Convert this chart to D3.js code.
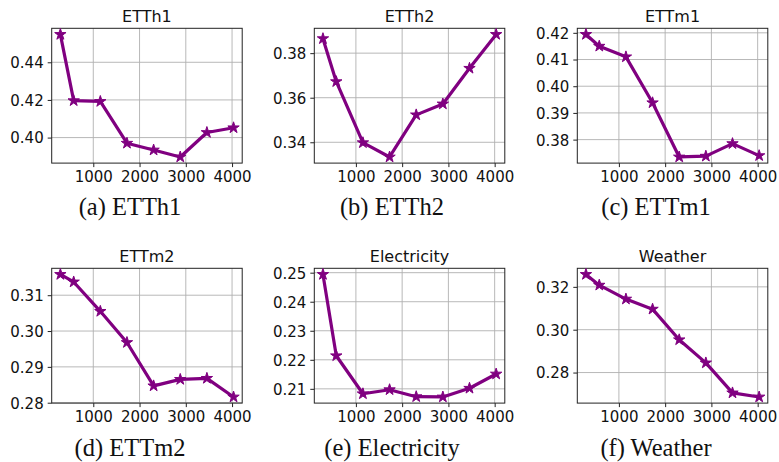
<!DOCTYPE html>
<html><head><meta charset="utf-8">
<script src="https://cdn.jsdelivr.net/npm/d3@7"></script>
<style>body{margin:0;background:#fff}svg{display:block}</style>
</head><body><svg id="c" width="779" height="462"></svg>
<script>
// ---- data ----
const windowSizes = [288, 576, 1152, 1728, 2304, 2880, 3456, 4032];
const xTicks = [1000, 2000, 3000, 4000];
const titles = ["ETTh1", "ETTh2", "ETTm1", "ETTm2", "Electricity", "Weather"];
const captions = ["(a) ETTh1", "(b) ETTh2", "(c) ETTm1", "(d) ETTm2", "(e) Electricity", "(f) Weather"];
const etth1 = [0.4548, 0.4196, 0.4192, 0.3970, 0.3934, 0.3897, 0.4027, 0.4052];
const etth2 = [0.3865, 0.3672, 0.3398, 0.3334, 0.3523, 0.3572, 0.3732, 0.3884];
const ettm1 = [0.4194, 0.4150, 0.4110, 0.3938, 0.3735, 0.3738, 0.3785, 0.3740];
const ettm2 = [0.3158, 0.3137, 0.3055, 0.2968, 0.2847, 0.2865, 0.2868, 0.2816];
const electricity = [0.2494, 0.2214, 0.2083, 0.2097, 0.2073, 0.2072, 0.2102, 0.2151];
const weather = [0.3258, 0.3208, 0.3143, 0.3096, 0.2953, 0.2845, 0.2705, 0.2686];
const etth1Ticks = [0.40, 0.42, 0.44];
const etth2Ticks = [0.34, 0.36, 0.38];
const ettm1Ticks = [0.38, 0.39, 0.40, 0.41, 0.42];
const ettm2Ticks = [0.28, 0.29, 0.30, 0.31];
const electricityTicks = [0.21, 0.22, 0.23, 0.24, 0.25];
const weatherTicks = [0.28, 0.30, 0.32];

const seriesList = [etth1, etth2, ettm1, ettm2, electricity, weather];
const tickList = [etth1Ticks, etth2Ticks, ettm1Ticks, ettm2Ticks, electricityTicks, weatherTicks];

// ---- layout ----
const colLeft = [51.7, 314.3, 577.3];
const rowTop = [28.3, 268.3];
const pw = 190.5, ph = 134.8;
const capX = [130, 392, 656];
const capY = [215, 456];
const color = "#800080";
const sans = "'DejaVu Sans', sans-serif";
const serif = "'Liberation Serif', 'Times New Roman', serif";

const svg = d3.select("#c");

function padExtent(arr) {
  const [a, b] = d3.extent(arr);
  const p = (b - a) * 0.05;
  return [a - p, b + p];
}

seriesList.forEach((vals, i) => {
  const col = i % 3, row = Math.floor(i / 3);
  const x0 = colLeft[col], y0 = rowTop[row];
  const x = d3.scaleLinear().domain(padExtent(windowSizes)).range([0, pw]);
  const y = d3.scaleLinear().domain(padExtent(vals)).range([ph, 0]);
  const g = svg.append("g").attr("transform", `translate(${x0},${y0})`);

  // grid
  g.append("g").selectAll("line").data(xTicks).join("line")
    .attr("x1", d => x(d)).attr("x2", d => x(d)).attr("y1", 0).attr("y2", ph)
    .attr("stroke", "#b0b0b0").attr("stroke-width", 0.9);
  g.append("g").selectAll("line").data(tickList[i]).join("line")
    .attr("y1", d => y(d)).attr("y2", d => y(d)).attr("x1", 0).attr("x2", pw)
    .attr("stroke", "#b0b0b0").attr("stroke-width", 0.9);

  // axes
  const xAxis = d3.axisBottom(x).tickValues(xTicks).tickSize(4).tickPadding(4).tickFormat(d3.format("d"));
  const yAxis = d3.axisLeft(y).tickValues(tickList[i]).tickSize(4).tickPadding(4).tickFormat(d3.format(".2f"));
  const gx = g.append("g").attr("transform", `translate(0,${ph})`).call(xAxis);
  const gy = g.append("g").call(yAxis);
  [gx, gy].forEach(a => {
    a.select(".domain").remove();
    a.selectAll(".tick line").attr("stroke", "#222").attr("stroke-width", 1);
    a.selectAll(".tick text").attr("font-family", sans).attr("font-size", 15).attr("fill", "#111");
  });
  gx.selectAll(".tick text").attr("dy", "0.76em");
  gy.selectAll(".tick text").attr("dy", "0.36em");

  // frame
  g.append("rect").attr("x", 0).attr("y", 0).attr("width", pw).attr("height", ph)
    .attr("fill", "none").attr("stroke", "#222").attr("stroke-width", 1);

  // line
  const line = d3.line().x((d, j) => x(windowSizes[j])).y(d => y(d));
  g.append("path").datum(vals).attr("d", line)
    .attr("fill", "none").attr("stroke", color).attr("stroke-width", 3.2).attr("stroke-linejoin", "round");

  // markers
  const star = d3.symbol().type(d3.symbolStar).size(40);
  g.append("g").selectAll("path").data(vals).join("path")
    .attr("transform", (d, j) => `translate(${x(windowSizes[j])},${y(d)})`)
    .attr("d", star).attr("fill", color).attr("stroke", color).attr("stroke-width", 1).attr("stroke-linejoin", "round");

  // title
  g.append("text").attr("x", pw / 2).attr("y", -6).attr("text-anchor", "middle")
    .attr("font-family", sans).attr("font-size", 16).attr("fill", "#111").text(titles[i]);

  // caption
  svg.append("text").attr("x", capX[col]).attr("y", capY[row]).attr("text-anchor", "middle")
    .attr("font-family", serif).attr("font-size", 24.5).attr("fill", "#111").text(captions[i]);
});
</script></body></html>
